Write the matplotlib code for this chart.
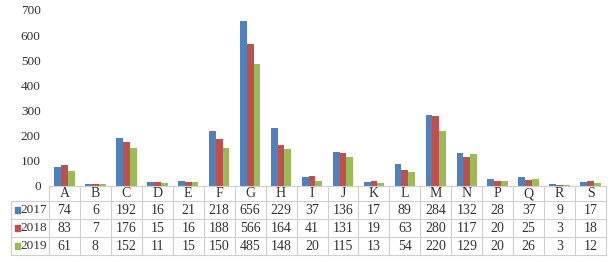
import matplotlib
matplotlib.use("Agg")
import matplotlib.pyplot as plt
from matplotlib.patches import Rectangle
import numpy as np

categories = list("ABCDEFGHIJKLMNPQRS")
years = ["2017", "2018", "2019"]
v2017 = [74, 6, 192, 16, 21, 218, 656, 229, 37, 136, 17, 89, 284, 132, 28, 37, 9, 17]
v2018 = [83, 7, 176, 15, 16, 188, 566, 164, 41, 131, 19, 63, 280, 117, 20, 25, 3, 18]
v2019 = [61, 8, 152, 11, 15, 150, 485, 148, 20, 115, 13, 54, 220, 129, 20, 26, 3, 12]
series = [v2017, v2018, v2019]
colors = ["#4F81BD", "#C0504D", "#9BBB59"]
yticks = [0, 100, 200, 300, 400, 500, 600, 700]

plt.rcParams['font.family'] = ['Liberation Serif', 'DejaVu Serif']

W, H = 615, 264
fig = plt.figure(figsize=(W/100, H/100), dpi=100)
x0, x1 = 49, 606
ytop, ybot = 10, 186
ax = fig.add_axes([x0/W, (H-ybot)/H, (x1-x0)/W, (ybot-ytop)/H])

n = len(categories)
x = np.arange(n)
bw = 0.22
for k, (vals, c) in enumerate(zip(series, colors)):
    ax.bar(x + (k-1)*bw, vals, width=bw, color=c, zorder=2)

ax.set_xlim(-0.5, n-0.5)
ax.set_ylim(0, 700)
ax.set_yticks(yticks)
ax.set_yticklabels([str(t) for t in yticks], fontsize=9.5, color="#333333")
ax.tick_params(axis='y', length=0, pad=6)
ax.set_xticks([])
for s in ax.spines.values():
    s.set_visible(False)

# data table (pixel row boundaries below the baseline)
axh = ybot - ytop
rows_px = [0, 15, 33, 51, 69]
ry = [-p/axh for p in rows_px]
tr = ax.get_xaxis_transform()
gc = "#D0D0D0"
lw = 0.8
left_px = 11
left_data = -0.5 - (x0-left_px)/((x1-x0)/n)
ax.plot([-0.5, n-0.5], [0, 0], color=gc, lw=lw, transform=tr, clip_on=False)
for r in range(1, 5):
    ax.plot([left_data, n-0.5], [ry[r], ry[r]], color=gc, lw=lw, transform=tr, clip_on=False)
for i in range(n+1):
    ax.plot([i-0.5, i-0.5], [0, ry[4]], color=gc, lw=lw, transform=tr, clip_on=False)
ax.plot([left_data, left_data], [ry[1], ry[4]], color=gc, lw=lw, transform=tr, clip_on=False)

for i, cat in enumerate(categories):
    ax.text(i, (ry[0]+ry[1])/2, cat, ha='center', va='center', fontsize=10, transform=tr, color="#333333")
    for r, vals in enumerate(series):
        ax.text(i, (ry[r+1]+ry[r+2])/2, str(vals[i]), ha='center', va='center', fontsize=10,
                transform=tr, color="#333333")

for r, (yr, c) in enumerate(zip(years, colors)):
    yc = H - (ybot + (rows_px[r+1] + rows_px[r+2])/2)
    fig.patches.append(Rectangle((14.5/W, (yc-2.5)/H), 5.5/W, 5.5/H, color=c,
                                 transform=fig.transFigure))
    fig.text(20.5/W, yc/H, yr, ha='left', va='center', fontsize=9.5, color="#333333")

fig.savefig("out.png", dpi=100)
